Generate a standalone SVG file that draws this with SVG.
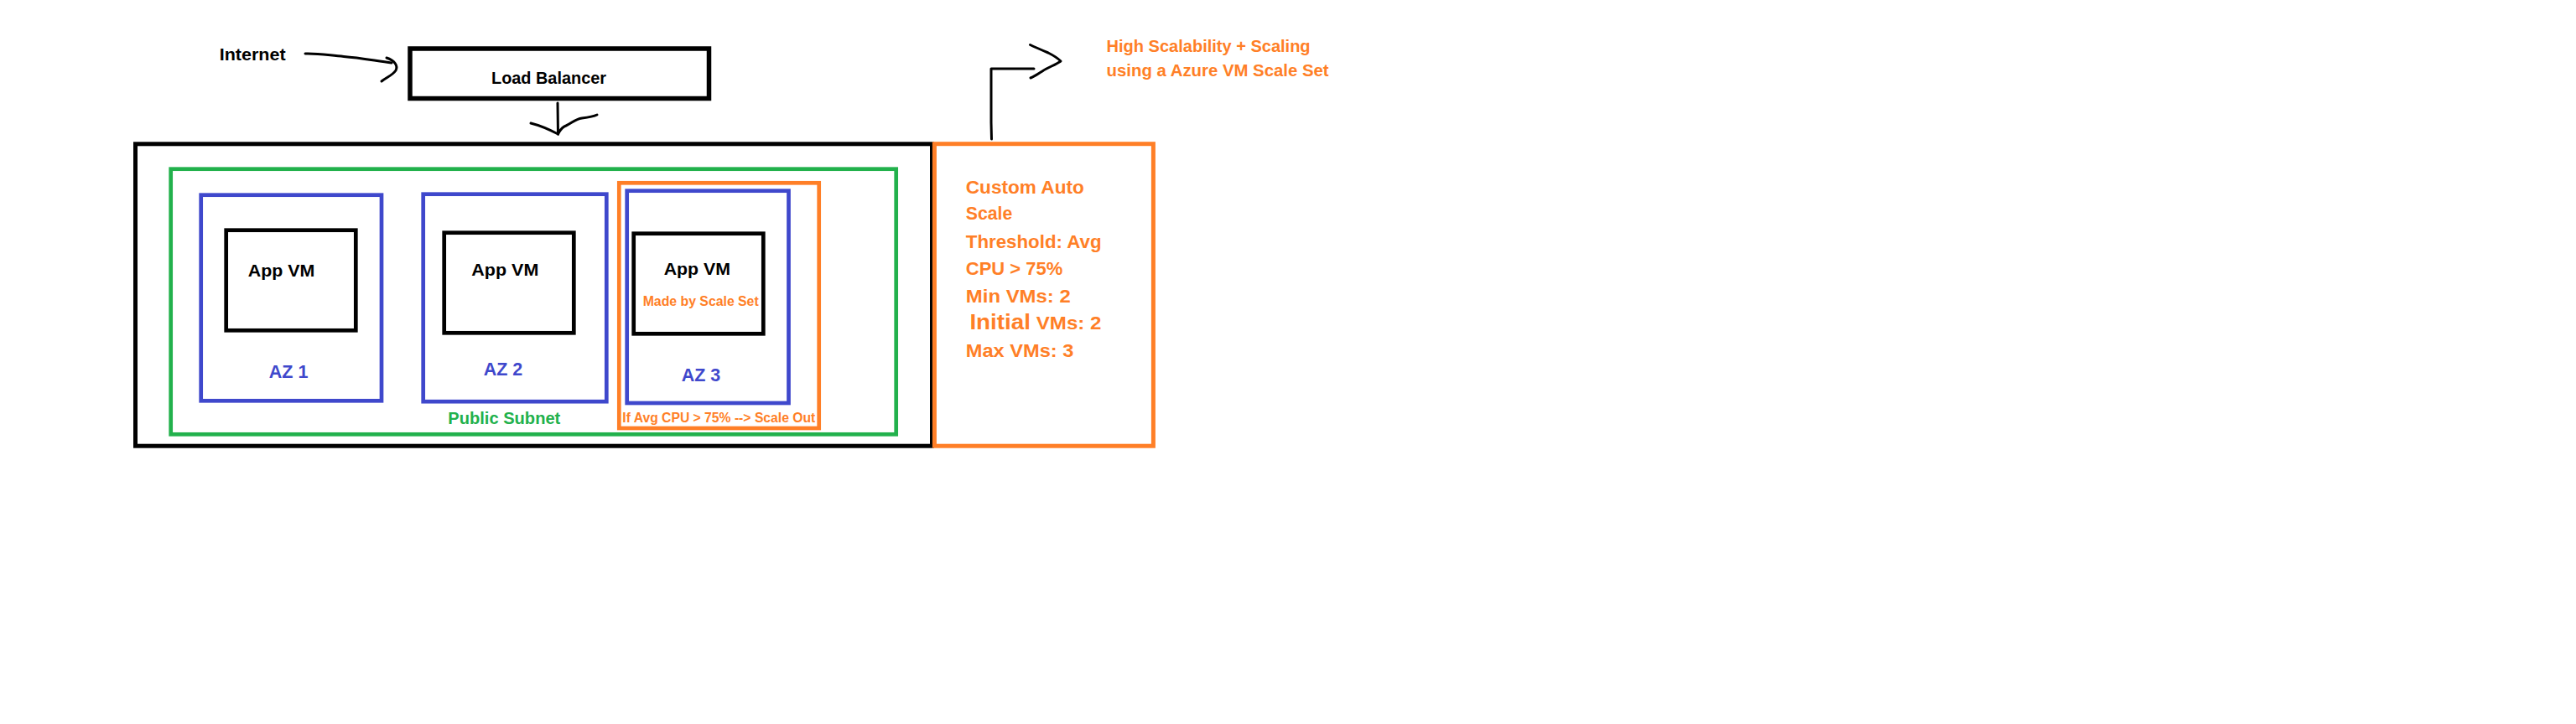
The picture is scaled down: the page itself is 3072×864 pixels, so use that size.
<svg xmlns="http://www.w3.org/2000/svg" width="3072" height="864" viewBox="0 0 3072 864">
<style>
text{font-family:"Liberation Sans",Arial,sans-serif;font-weight:bold;}
.box{fill:none;}
.blk{stroke:#000;}
.grn{stroke:#22b14c;}
.blu{stroke:#3f48cc;}
.org{stroke:#ff7f27;}
.tb{fill:#000;}
.tg{fill:#22b14c;}
.tu{fill:#3f48cc;}
.to{fill:#ff7f27;}
.pen{fill:none;stroke:#000;stroke-width:3;stroke-linecap:round;stroke-linejoin:round;}
</style>
<rect x="0" y="0" width="3072" height="864" fill="#fff"/>

<g id="internet">
<text class="tb" x="261.7" y="72.3" font-size="21" textLength="79" lengthAdjust="spacingAndGlyphs">Internet</text>
</g>

<g id="load-balancer">
<rect class="box blk" x="489" y="58" width="356.5" height="59.5" stroke-width="5.5"/>
<text class="tb" x="586" y="100" font-size="20" textLength="137" lengthAdjust="spacingAndGlyphs">Load Balancer</text>
</g>

<g id="vnet">
<rect class="box blk" x="161.5" y="171.8" width="950" height="360.4" stroke-width="5"/>
</g>

<g id="public-subnet">
<rect class="box grn" x="203.7" y="201.7" width="865" height="316.6" stroke-width="4.7"/>
<text class="tg" x="534.3" y="505.7" font-size="20" textLength="134" lengthAdjust="spacingAndGlyphs">Public Subnet</text>
</g>

<g id="az1">
<rect class="box blu" x="239.7" y="232.7" width="215.3" height="245.6" stroke-width="4.7"/>
<text class="tu" x="320.7" y="450.7" font-size="21.5" textLength="46.7" lengthAdjust="spacingAndGlyphs">AZ 1</text>
</g>
<g id="vm1">
<rect class="box blk" x="269.7" y="274.7" width="154.6" height="119.6" stroke-width="4.7"/>
<text class="tb" x="295.7" y="330" font-size="21" textLength="79.6" lengthAdjust="spacingAndGlyphs">App VM</text>
</g>

<g id="az2">
<rect class="box blu" x="504.7" y="231.7" width="218.6" height="247.5" stroke-width="4.7"/>
<text class="tu" x="576.7" y="448.3" font-size="21.5" textLength="46.6" lengthAdjust="spacingAndGlyphs">AZ 2</text>
</g>
<g id="vm2">
<rect class="box blk" x="529.7" y="277.7" width="154.6" height="119.6" stroke-width="4.7"/>
<text class="tb" x="562.3" y="329.3" font-size="21" textLength="80" lengthAdjust="spacingAndGlyphs">App VM</text>
</g>

<g id="scale-out">
<rect class="box org" x="738.3" y="218.3" width="238.4" height="292.7" stroke-width="4.7"/>
<text class="to" x="742.3" y="504.3" font-size="15.6" textLength="230" lengthAdjust="spacingAndGlyphs">If Avg CPU &gt; 75% --&gt; Scale Out</text>
</g>
<g id="az3">
<rect class="box blu" x="747.7" y="227.7" width="192.8" height="253.3" stroke-width="4.7"/>
<text class="tu" x="812.7" y="455" font-size="21.5" textLength="46.6" lengthAdjust="spacingAndGlyphs">AZ 3</text>
</g>
<g id="vm3">
<rect class="box blk" x="755.7" y="278.7" width="154.6" height="119.6" stroke-width="4.7"/>
<text class="tb" x="791.7" y="327.7" font-size="21" textLength="79.3" lengthAdjust="spacingAndGlyphs">App VM</text>
<text class="to" x="766.7" y="365" font-size="16" textLength="138" lengthAdjust="spacingAndGlyphs">Made by Scale Set</text>
</g>

<g id="autoscale">
<rect class="box org" x="1114.4" y="171.7" width="261" height="360.5" stroke-width="5"/>
<text class="to" x="1151.8" y="230.7" font-size="22.5" textLength="141" lengthAdjust="spacingAndGlyphs">Custom Auto</text>
<text class="to" x="1151.8" y="262.3" font-size="22.5" textLength="55.4" lengthAdjust="spacingAndGlyphs">Scale</text>
<text class="to" x="1151.8" y="296" font-size="22.5" textLength="161.8" lengthAdjust="spacingAndGlyphs">Threshold: Avg</text>
<text class="to" x="1151.8" y="327.7" font-size="22.5" textLength="115.4" lengthAdjust="spacingAndGlyphs">CPU &gt; 75%</text>
<text class="to" x="1151.8" y="360.7" font-size="22.5" textLength="125" lengthAdjust="spacingAndGlyphs">Min VMs: 2</text>
<text class="to" x="1156.4" y="393.3" font-size="22.5" textLength="157" lengthAdjust="spacingAndGlyphs"><tspan font-size="26">Initial</tspan> VMs: 2</text>
<text class="to" x="1151.8" y="425.7" font-size="22.5" textLength="128.6" lengthAdjust="spacingAndGlyphs">Max VMs: 3</text>
</g>

<g id="scale-set-note">
<text class="to" x="1319.6" y="62.3" font-size="20" textLength="243" lengthAdjust="spacingAndGlyphs">High Scalability + Scaling</text>
<text class="to" x="1319.6" y="91" font-size="20" textLength="265" lengthAdjust="spacingAndGlyphs">using a Azure VM Scale Set</text>
</g>

<g id="connectors">
<path class="pen" d="M364,64 C380,63.5 392,66 410,67.5 C430,69 450,73 467,75"/>
<path class="pen" d="M461,69 C470,72 475,78 472,84 C468,90 461,92 455,97"/>
<path class="pen" d="M665,123 L665.5,160"/>
<path class="pen" d="M633,147 C645,150 656,155 665.5,160"/>
<path class="pen" d="M665.5,160 C668,156 669,152 675,150 C682,147 686,142 694,141 C702,140 708,139 712,137"/>
<path class="pen" d="M1182.5,166 L1182,146 L1182,82 L1233,82"/>
<path class="pen" d="M1228.5,53.5 C1236,57 1243,60 1250,63 C1256,66 1262,70 1265,73 C1258,78 1250,80 1243,85 C1238,88 1234,91 1229,93"/>
</g>
</svg>
